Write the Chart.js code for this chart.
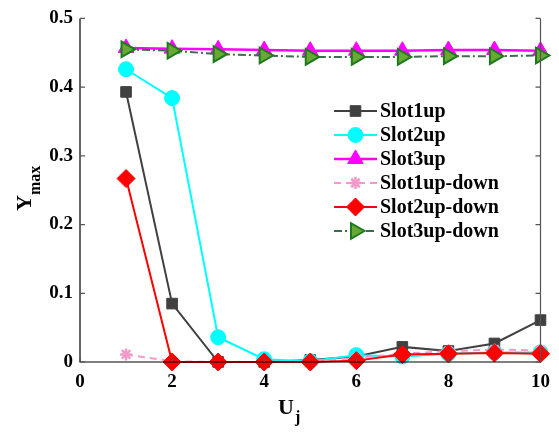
<!DOCTYPE html>
<html>
<head>
<meta charset="utf-8">
<script src="https://cdn.jsdelivr.net/npm/chart.js@4.4.1/dist/chart.umd.min.js"></script>
<style>
  html, body { margin: 0; padding: 0; background: #fff; }
  #wrap { width: 559px; height: 432px; position: relative; }
</style>
</head>
<body>
<div id="wrap"><canvas id="chart"></canvas></div>
<script>
// --- data ---
const uj = [1, 2, 3, 4, 5, 6, 7, 8, 9, 10];
const slot1up = [0.393, 0.085, 0.000, 0.000, 0.003, 0.008, 0.022, 0.016, 0.027, 0.061];
const slot2up = [0.426, 0.384, 0.036, 0.004, 0.001, 0.010, 0.008, 0.012, 0.014, 0.014];
const slot3up = [0.457, 0.456, 0.455, 0.454, 0.453, 0.453, 0.453, 0.454, 0.454, 0.453];
const slot1upDown = [0.011, 0.001, 0.000, 0.000, 0.000, 0.006, 0.012, 0.016, 0.018, 0.017];
const slot2upDown = [0.267, 0.000, 0.000, 0.000, 0.000, 0.002, 0.011, 0.012, 0.013, 0.012];
const slot3upDown = [0.455, 0.453, 0.448, 0.446, 0.444, 0.444, 0.444, 0.445, 0.445, 0.446];
const xTicks = [0, 2, 4, 6, 8, 10];
const yTicks = [0, 0.1, 0.2, 0.3, 0.4, 0.5];

const FONT = '"Liberation Serif", "Times New Roman", serif';

function pts(ys) {
    return uj.map((x, i) => ({ x: x, y: ys[i] }));
}

function series(label, ys, opts) {
    return Object.assign({
        label: label,
        data: pts(ys),
        borderWidth: 2,
        pointRadius: 7,
        pointBorderWidth: 1,
        clip: false
    }, opts);
}

const datasets = [
    series('Slot1up', slot1up, {
        borderColor: '#404040', backgroundColor: '#404040',
        pointStyle: 'rect', pointRadius: 7.5, order: 5
    }),
    series('Slot2up', slot2up, {
        borderColor: '#00ffff', backgroundColor: '#00ffff',
        pointStyle: 'circle', pointRadius: 7.5, order: 4
    }),
    series('Slot3up', slot3up, {
        borderColor: '#ff00ff', backgroundColor: '#ff00ff',
        pointStyle: 'triangle', pointRadius: 9, borderWidth: 2.5, order: 3
    }),
    series('Slot1up-down', slot1upDown, {
        borderColor: '#f49ac8', backgroundColor: '#f49ac8',
        borderDash: [7, 5], pointStyle: 'star', pointRadius: 6, pointBorderWidth: 2.5, order: 2
    }),
    series('Slot2up-down', slot2upDown, {
        borderColor: '#ff0000', backgroundColor: '#ff0000',
        pointStyle: 'rectRot', pointRadius: 9, order: 1
    }),
    series('Slot3up-down', slot3upDown, {
        borderColor: '#3d6b52', backgroundColor: '#6aa836',
        pointBorderColor: '#1e7a1e', pointBorderWidth: 2,
        borderDash: [8, 3, 2, 3], pointStyle: 'triangle', pointRotation: 90,
        pointRadius: 9, order: 0
    })
];

// inward ticks, right axis line, legend and subscripted titles
const decor = {
    id: 'decor',
    afterDraw(chart) {
        const ctx = chart.ctx;
        const a = chart.chartArea;
        const xs = chart.scales.x, ys = chart.scales.y;
        ctx.save();
        ctx.strokeStyle = '#000';
        ctx.lineWidth = 1.2;
        ctx.beginPath();
        ctx.moveTo(a.left, a.top); ctx.lineTo(a.left, a.bottom); ctx.lineTo(a.right, a.bottom);
        ctx.stroke();
        ctx.strokeStyle = '#555';
        ctx.beginPath();
        ctx.moveTo(a.right, a.top); ctx.lineTo(a.right, a.bottom);
        yTicks.forEach(v => {
            const y = ys.getPixelForValue(v);
            ctx.moveTo(a.left, y); ctx.lineTo(a.left + 5, y);
            ctx.moveTo(a.right, y); ctx.lineTo(a.right - 5, y);
        });
        xTicks.forEach(v => {
            const x = xs.getPixelForValue(v);
            ctx.moveTo(x, a.bottom); ctx.lineTo(x, a.bottom - 4);
        });
        ctx.stroke();

        // legend
        const lx0 = 334, lx1 = 377, tx = 380;
        let ly = 111;
        chart.data.datasets.forEach(ds => {
            ctx.save();
            ctx.strokeStyle = ds.borderColor;
            ctx.lineWidth = ds.borderWidth;
            ctx.setLineDash(ds.borderDash || []);
            ctx.beginPath();
            ctx.moveTo(lx0, ly); ctx.lineTo(lx1, ly);
            ctx.stroke();
            ctx.setLineDash([]);
            ctx.fillStyle = ds.backgroundColor;
            ctx.strokeStyle = ds.pointBorderColor || ds.borderColor;
            ctx.lineWidth = ds.pointBorderWidth;
            Chart.helpers.drawPoint(ctx, {
                pointStyle: ds.pointStyle,
                rotation: ds.pointRotation || 0,
                radius: ds.pointRadius,
                borderWidth: ds.pointBorderWidth
            }, (lx0 + lx1) / 2, ly);
            ctx.restore();
            ctx.fillStyle = '#000';
            ctx.font = 'bold 20px ' + FONT;
            ctx.textBaseline = 'middle';
            ctx.textAlign = 'left';
            ctx.fillText(ds.label, tx, ly + 1);
            ly += 24;
        });

        // x title U_j
        ctx.fillStyle = '#000';
        ctx.textBaseline = 'alphabetic';
        ctx.font = 'bold 22px ' + FONT;
        ctx.fillText('U', 278, 414);
        const uw = ctx.measureText('U').width;
        ctx.font = 'bold 16px ' + FONT;
        ctx.fillText('j', 278 + uw + 1, 422);

        // y title Y_max
        ctx.translate(31, 211);
        ctx.rotate(-Math.PI / 2);
        ctx.font = 'bold 22px ' + FONT;
        ctx.fillText('Y', 0, 0);
        const yw = ctx.measureText('Y').width;
        ctx.font = 'bold 16px ' + FONT;
        ctx.fillText('max', yw, 9);
        ctx.restore();
    }
};

new Chart(document.getElementById('chart'), {
    type: 'line',
    data: { datasets: datasets },
    options: {
        responsive: true,
        maintainAspectRatio: false,
        animation: false,
        layout: { padding: { top: 12, right: 11, left: 0, bottom: 0 } },
        plugins: { legend: { display: false }, tooltip: { enabled: false } },
        scales: {
            x: {
                type: 'linear', min: 0, max: 10,
                afterBuildTicks: s => { s.ticks = xTicks.map(v => ({ value: v })); },
                afterFit: s => { s.height = 70; },
                grid: { display: false, drawTicks: false },
                border: { display: false },
                ticks: {
                    color: '#000', padding: 9,
                    font: { family: FONT, size: 19, weight: 'bold' }
                }
            },
            y: {
                min: 0, max: 0.5,
                afterBuildTicks: s => { s.ticks = yTicks.map(v => ({ value: v })); },
                afterFit: s => { s.width = 80; },
                grid: { display: false, drawTicks: false },
                border: { display: false },
                ticks: {
                    color: '#000', padding: 7,
                    font: { family: FONT, size: 19, weight: 'bold' },
                    callback: v => String(Math.round(v * 10) / 10)
                }
            }
        }
    },
    plugins: [decor]
});
</script>
</body>
</html>
